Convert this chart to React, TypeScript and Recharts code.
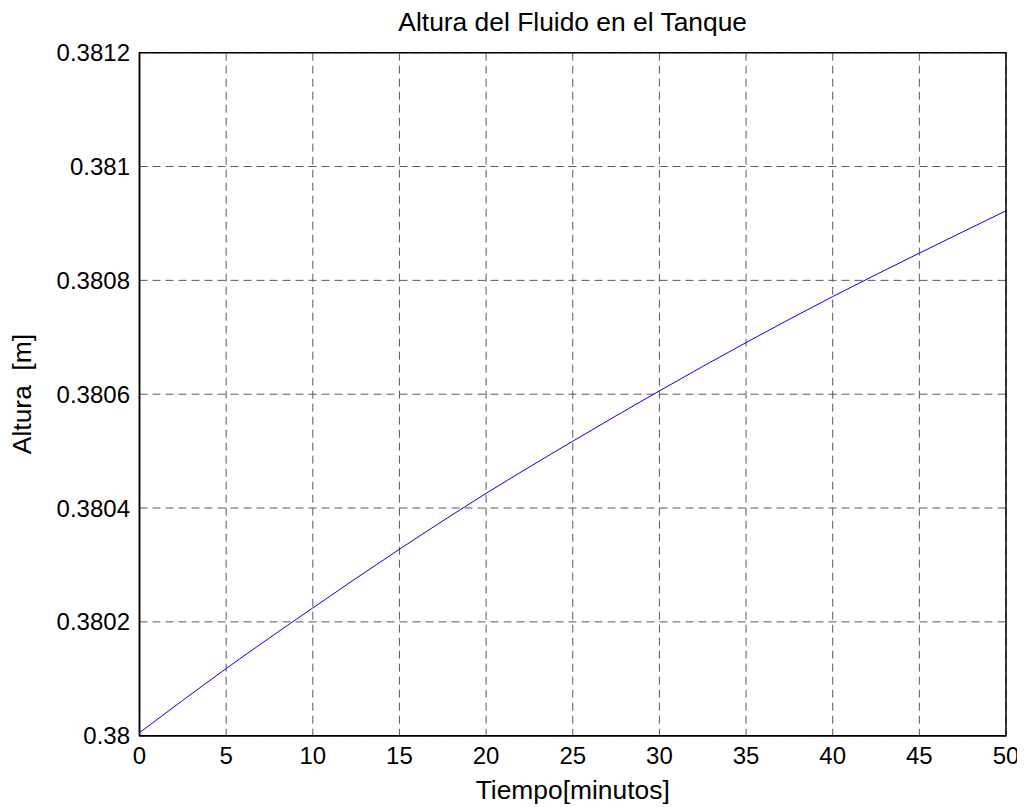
import React from "react";
import {
  LineChart,
  Line,
  XAxis,
  YAxis,
  CartesianGrid,
  ReferenceArea,
} from "recharts";

const timeMinutes = [0, 5, 10, 15, 20, 25, 30, 35, 40, 45, 50];
const heightMeters = [
  0.3800053, 0.3801179, 0.3802245, 0.3803276, 0.3804257, 0.3805174,
  0.3806058, 0.3806907, 0.3807715, 0.3808478, 0.3809222,
];
const xTicks = [0, 5, 10, 15, 20, 25, 30, 35, 40, 45, 50];
const yTicks = [0.38, 0.3802, 0.3804, 0.3806, 0.3808, 0.381, 0.3812];

const titleText = "Altura del Fluido en el Tanque";
const xLabelText = "Tiempo[minutos]";
const yLabelText = "Altura  [m]";

const data = timeMinutes.map((t, i) => ({ t, h: heightMeters[i] }));

const FONT = '"Liberation Sans", Arial, sans-serif';

const fmtY = (v: number) => {
  const s = v.toFixed(4);
  return s.replace(/0+$/, "").replace(/\.$/, "");
};

export default function App() {
  const W = 1017;
  const H = 799;
  return (
    <div style={{ position: "relative", width: W, height: H, fontFamily: FONT, background: "#fff" }}>
      <LineChart
        width={W}
        height={H}
        data={data}
        margin={{ top: 44.7, right: 19, bottom: 41.3, left: 0 }}
        style={{ fontFamily: FONT }}
      >
        <CartesianGrid
          stroke="#5a5a5a"
          strokeDasharray="8 5"
          strokeWidth={1}
          horizontalValues={yTicks}
          verticalValues={xTicks}
        />
        <XAxis
          dataKey="t"
          type="number"
          domain={[0, 50]}
          ticks={xTicks}
          tickSize={0}
          tickMargin={11}
          axisLine={{ stroke: "#000", strokeWidth: 1.5 }}
          tick={{ fill: "#000", fontSize: 24, fontFamily: FONT }}
          height={30}
          allowDataOverflow
        />
        <YAxis
          type="number"
          domain={[0.38, 0.3812]}
          ticks={yTicks}
          tickFormatter={fmtY}
          tickSize={0}
          tickMargin={9.5}
          axisLine={{ stroke: "#000", strokeWidth: 1.5 }}
          tick={{ fill: "#000", fontSize: 24, fontFamily: FONT }}
          width={131.5}
          allowDataOverflow
        />
        <ReferenceArea
          x1={0}
          x2={50}
          y1={0.38}
          y2={0.3812}
          fill="none"
          fillOpacity={0}
          stroke="#000"
          strokeWidth={1.5}
        />
        <Line
          type="monotone"
          dataKey="h"
          stroke="#0000ff"
          strokeWidth={1}
          dot={false}
          isAnimationActive={false}
        />
      </LineChart>
      <div
        style={{
          position: "absolute",
          left: 564.7,
          top: 14,
          transform: "translate(-50%, -50%)",
          fontSize: 26.4,
          whiteSpace: "pre",
          color: "#000",
          lineHeight: 1,
        }}
      >
        {titleText}
      </div>
      <div
        style={{
          position: "absolute",
          left: 564.7,
          top: 782,
          transform: "translate(-50%, -50%)",
          fontSize: 26.4,
          whiteSpace: "pre",
          color: "#000",
          lineHeight: 1,
        }}
      >
        {xLabelText}
      </div>
      <div
        style={{
          position: "absolute",
          left: 14,
          top: 386,
          transform: "translate(-50%, -50%) rotate(-90deg)",
          fontSize: 26.4,
          whiteSpace: "pre",
          color: "#000",
          lineHeight: 1,
        }}
      >
        {yLabelText}
      </div>
    </div>
  );
}
